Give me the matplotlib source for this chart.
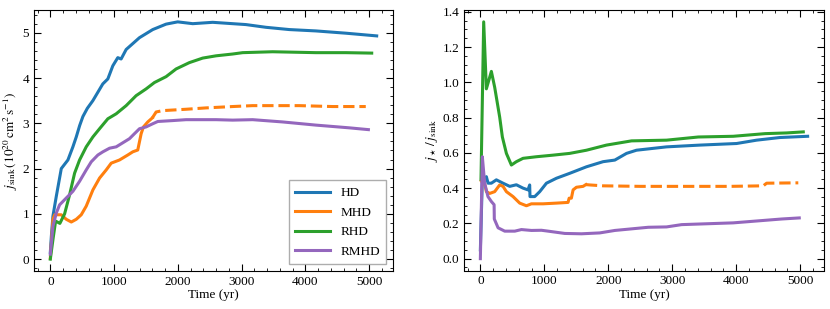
import matplotlib
matplotlib.use("Agg")
import matplotlib.pyplot as plt
from matplotlib.ticker import MultipleLocator

plt.rcParams["font.family"] = "serif"
plt.rcParams["font.serif"] = ["Liberation Serif", "DejaVu Serif"]
plt.rcParams["mathtext.fontset"] = "stix"
plt.rcParams["font.size"] = 9.5

# -----------------------------
# Left panel: j_sink (1e20 cm^2 s^-1)
# -----------------------------
hd_t = [0, 16, 41, 94, 172, 276, 354, 407, 460, 511, 580, 667, 823, 902, 980, 1058, 1110, 1189,
        1397, 1606, 1815, 1997, 2233, 2546, 2859, 3068, 3380, 3746, 4163, 4633, 5117]
hd_j = [0.15, 0.5, 0.95, 1.39, 2.0, 2.19, 2.48, 2.7, 2.95, 3.15, 3.33, 3.5, 3.87, 3.98, 4.27, 4.45,
        4.42, 4.63, 4.89, 5.07, 5.19, 5.24, 5.2, 5.23, 5.2, 5.18, 5.12, 5.07, 5.04, 4.99, 4.93]

mhd_t = [0, 42, 68, 172, 250, 329, 407, 485, 563, 668, 772, 876, 955, 1085, 1215, 1293, 1371,
         1424, 1460, 1528, 1600]
mhd_j = [0.02, 0.88, 0.98, 0.98, 0.88, 0.82, 0.88, 0.98, 1.17, 1.53, 1.79, 1.97, 2.12, 2.19, 2.3,
         2.37, 2.41, 2.77, 2.92, 3.03, 3.12]
mhd_dash_t = [1600, 1659, 1763, 2128, 2441, 2859, 3172, 3902, 4424, 4946]
mhd_dash_j = [3.12, 3.25, 3.28, 3.31, 3.34, 3.37, 3.39, 3.39, 3.37, 3.37]

rhd_t = [0, 42, 83, 150, 224, 302, 381, 459, 563, 668, 772, 902, 1033, 1189, 1345, 1502, 1632,
         1815, 1972, 2180, 2389, 2598, 2859, 3016, 3485, 4163, 4633, 5039]
rhd_j = [0.0, 0.44, 0.84, 0.79, 1.0, 1.42, 1.9, 2.19, 2.48, 2.7, 2.88, 3.1, 3.21, 3.39, 3.61, 3.76,
         3.9, 4.03, 4.2, 4.34, 4.44, 4.49, 4.53, 4.56, 4.58, 4.56, 4.56, 4.55]

rmhd_t = [0, 42, 94, 146, 250, 355, 459, 563, 642, 746, 824, 929, 1033, 1137, 1241, 1319, 1398,
          1502, 1606, 1685, 1919, 2128, 2598, 2859, 3172, 3641, 4163, 4685, 4987]
rmhd_j = [0.11, 0.73, 1.02, 1.2, 1.35, 1.5, 1.72, 1.97, 2.15, 2.3, 2.37, 2.45, 2.48, 2.57, 2.66,
          2.77, 2.88, 2.92, 2.99, 3.04, 3.06, 3.08, 3.08, 3.07, 3.08, 3.03, 2.96, 2.9, 2.86]

# -----------------------------
# Right panel: j_star / j_sink
# -----------------------------
hd_rt = [0, 30, 94, 120, 172, 250, 354, 459, 563, 667, 745, 771, 776, 850, 928, 1033, 1189,
         1397, 1659, 1919, 2102, 2285, 2441, 2911, 3432, 4006, 4319, 4684, 5117]
hd_r = [0.05, 0.44, 0.465, 0.428, 0.428, 0.447, 0.428, 0.41, 0.419, 0.4, 0.39, 0.418, 0.352,
        0.352, 0.38, 0.428, 0.456, 0.484, 0.521, 0.55, 0.559, 0.597, 0.615, 0.634, 0.644, 0.653,
        0.672, 0.687, 0.694]

mhd_rt = [15, 52, 94, 146, 224, 302, 354, 407, 511, 615, 720, 798, 980, 1189, 1371, 1388, 1423,
          1450, 1502, 1606, 1650]
mhd_r = [0.44, 0.45, 0.38, 0.37, 0.38, 0.418, 0.41, 0.38, 0.352, 0.315, 0.3, 0.311, 0.311, 0.315,
         0.319, 0.343, 0.343, 0.39, 0.405, 0.41, 0.42]
mhd_dash_rt = [1650, 1711, 1919, 2500, 3200, 3900, 4423, 4476, 4971]
mhd_dash_r = [0.42, 0.418, 0.413, 0.41, 0.41, 0.41, 0.413, 0.428, 0.43]

rhd_rt = [10, 52, 94, 172, 224, 302, 344, 407, 485, 563, 667, 876, 1136, 1397, 1659, 1971, 2364,
          2911, 3408, 3953, 4452, 4789, 5049]
rhd_r = [0.45, 1.343, 0.963, 1.062, 0.972, 0.803, 0.69, 0.597, 0.531, 0.55, 0.569, 0.578, 0.587,
         0.597, 0.615, 0.644, 0.668, 0.672, 0.69, 0.694, 0.709, 0.713, 0.719]

rmhd_rt = [0, 31, 67, 119, 172, 215, 218, 277, 381, 538, 642, 799, 955, 1060, 1320, 1581, 1867,
           2103, 2625, 2911, 3147, 3953, 4713, 4986]
rmhd_r = [0.0, 0.578, 0.428, 0.352, 0.324, 0.306, 0.225, 0.175, 0.156, 0.156, 0.165, 0.16, 0.161,
          0.156, 0.143, 0.141, 0.146, 0.16, 0.178, 0.18, 0.193, 0.203, 0.225, 0.231]

c_hd, c_mhd, c_rhd, c_rmhd = "#1f77b4", "#ff7f0e", "#2ca02c", "#9467bd"
lw = 2.2

fig = plt.figure(figsize=(8.3, 3.09), dpi=100)
ax1 = fig.add_axes([34 / 830, 38 / 309, 359 / 830, 261 / 309])
ax2 = fig.add_axes([464 / 830, 38.5 / 309, 360 / 830, 260.5 / 309])

ax1.plot(hd_t, hd_j, color=c_hd, lw=lw, label="HD")
ax1.plot(mhd_t, mhd_j, color=c_mhd, lw=lw, label="MHD")
ax1.plot(mhd_dash_t, mhd_dash_j, color=c_mhd, lw=lw, ls="--")
ax1.plot(rhd_t, rhd_j, color=c_rhd, lw=lw, label="RHD")
ax1.plot(rmhd_t, rmhd_j, color=c_rmhd, lw=lw, label="RMHD")
ax1.set_ylabel(r"$j_{\rm sink}\,(10^{20}\,{\rm cm^2\,s^{-1}})$", labelpad=2)
ax1.set_xlabel("Time (yr)", labelpad=1)
ax1.yaxis.set_major_locator(MultipleLocator(1))
ax1.yaxis.set_minor_locator(MultipleLocator(0.2))
ax1.legend(loc="lower right", handlelength=2.6, fancybox=False, edgecolor="0.6",
           fontsize=9.5, borderpad=0.5, labelspacing=0.55)

ax2.plot(hd_rt, hd_r, color=c_hd, lw=lw)
ax2.plot(mhd_rt, mhd_r, color=c_mhd, lw=lw)
ax2.plot(mhd_dash_rt, mhd_dash_r, color=c_mhd, lw=lw, ls="--")
ax2.plot(rhd_rt, rhd_r, color=c_rhd, lw=lw)
ax2.plot(rmhd_rt, rmhd_r, color=c_rmhd, lw=lw)
ax2.set_ylabel(r"$j_\star\,/\,j_{\rm sink}$", labelpad=2)
ax2.set_xlabel("Time (yr)", labelpad=1)
ax2.yaxis.set_major_locator(MultipleLocator(0.2))
ax2.yaxis.set_minor_locator(MultipleLocator(0.05))

for ax in (ax1, ax2):
    ax.xaxis.set_major_locator(MultipleLocator(1000))
    ax.xaxis.set_minor_locator(MultipleLocator(200))
    ax.tick_params(which="both", direction="in", top=True, right=True, labelsize=9.5)
    ax.tick_params(which="major", length=5)
    ax.tick_params(which="minor", length=2.5)

ax2.yaxis.set_major_formatter(matplotlib.ticker.FormatStrFormatter("%.1f"))

fig.savefig("out.png", dpi=100)
